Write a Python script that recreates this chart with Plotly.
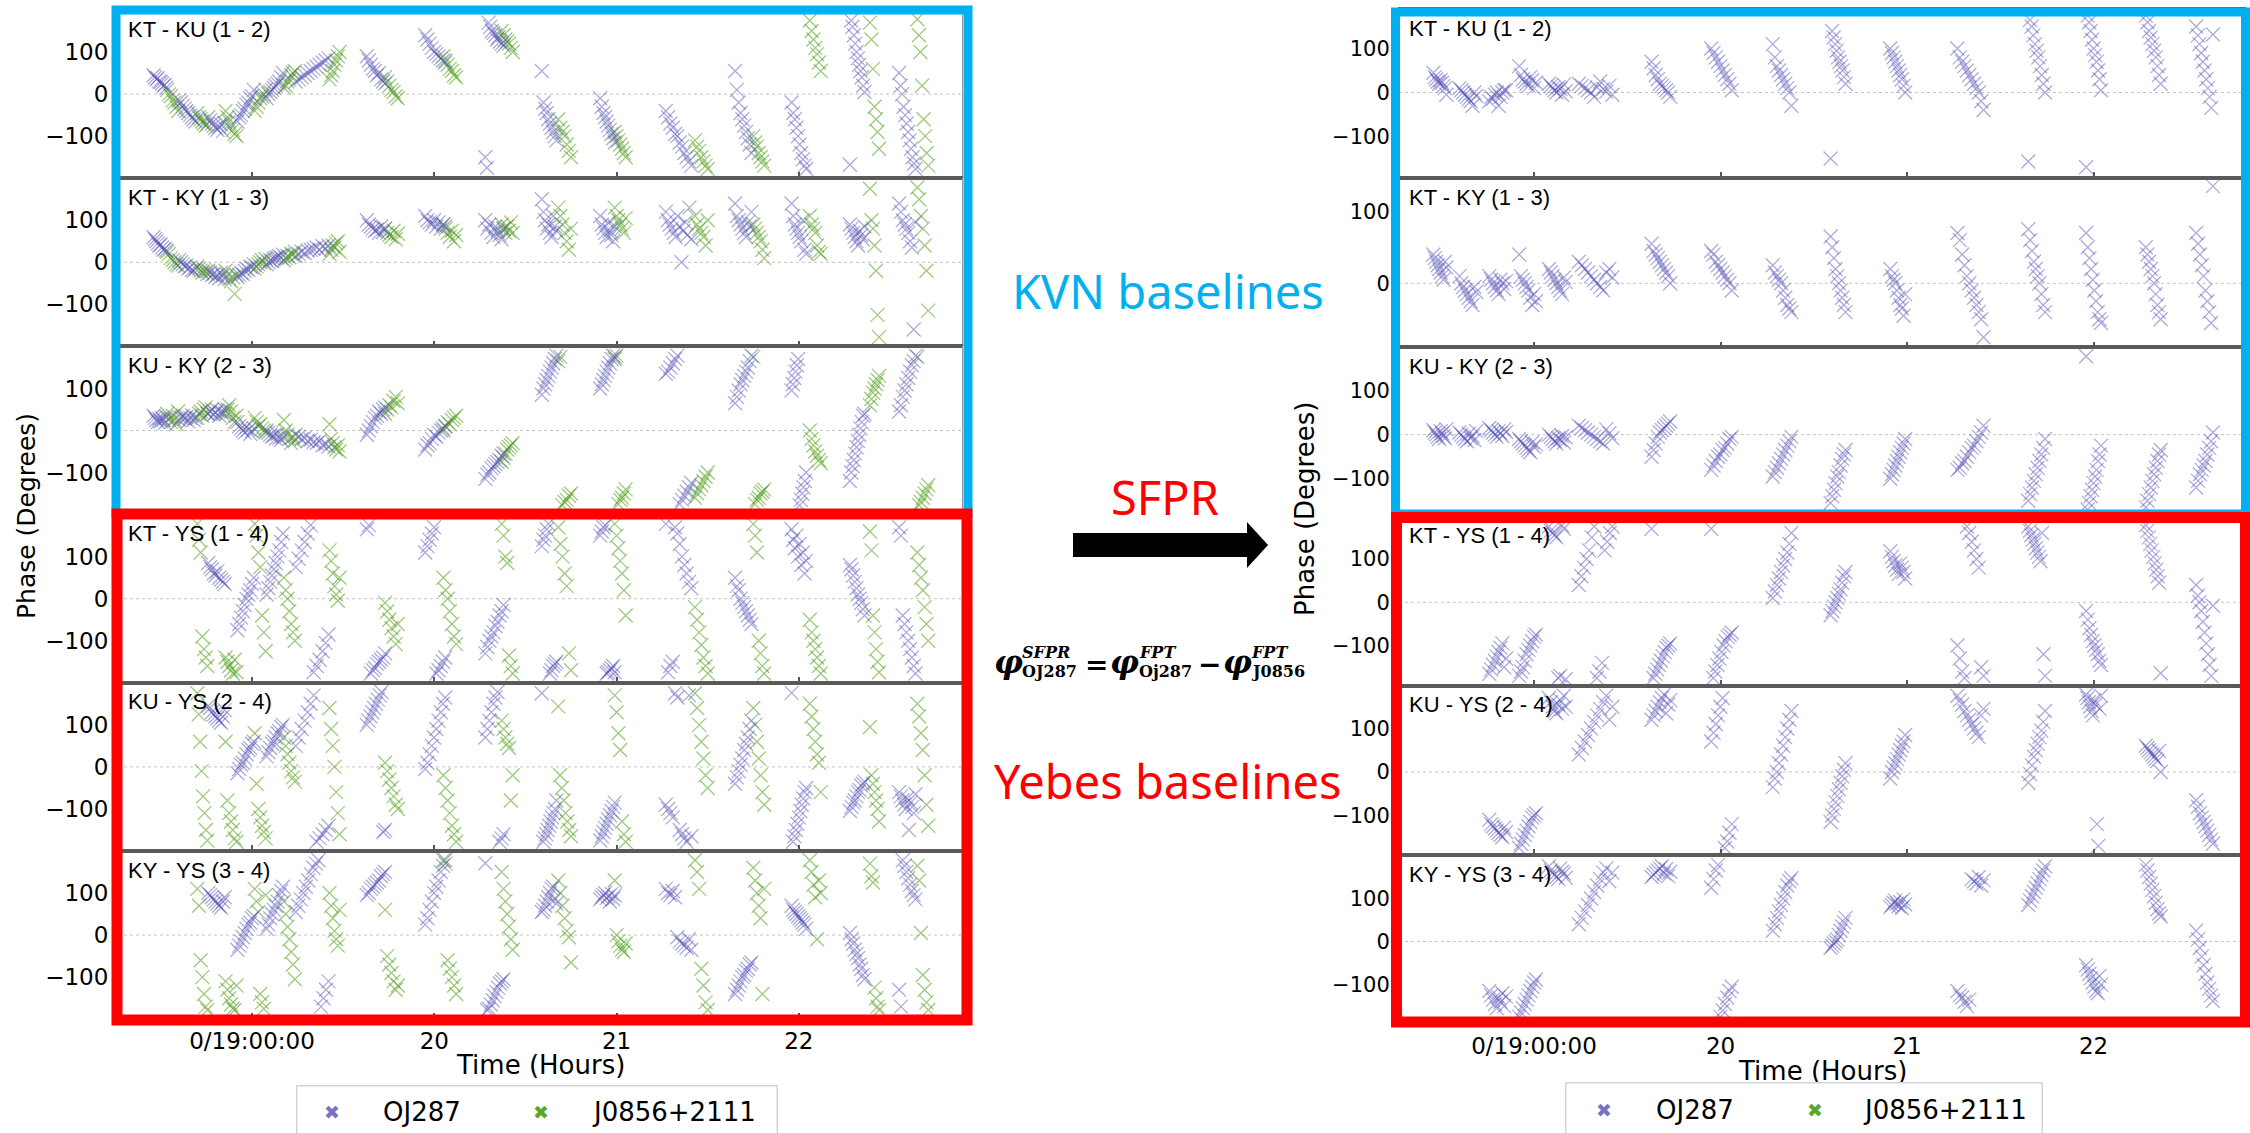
import numpy as np
import plotly.graph_objects as go

W, H = 2250, 1133

BASELINE_LABELS = ["KT - KU (1 - 2)", "KT - KY (1 - 3)", "KU - KY (2 - 3)",
                   "KT - YS (1 - 4)", "KU - YS (2 - 4)", "KY - YS (3 - 4)"]

# Scan windows (hours, 0/19:00:00 = 19)
OJ287_SCANS = [(18.46, 18.53), (18.60, 18.69), (18.76, 18.85), (18.92, 19.01),
               (19.08, 19.17), (19.24, 19.42), (19.63, 19.73), (19.95, 20.06),
               (20.28, 20.38), (20.59, 20.67), (20.91, 20.99), (21.27, 21.41),
               (21.65, 21.74), (21.96, 22.04), (22.28, 22.36), (22.55, 22.64)]
J0856_SCANS = [(18.535, 18.595), (18.70, 18.755), (18.855, 18.915), (19.015, 19.075),
               (19.175, 19.235), (19.425, 19.48), (19.73, 19.80), (20.05, 20.12),
               (20.37, 20.43), (20.68, 20.75), (20.99, 21.05), (21.43, 21.50),
               (21.75, 21.81), (22.06, 22.12), (22.39, 22.44), (22.65, 22.71)]

X_TICKS = [19, 20, 21, 22]
X_TICK_TEXT = ["0/19:00:00", "20", "21", "22"]
Y_TICKS = [-100, 0, 100]
Y_TICK_TEXT = ["\u2212100", "0", "100"]

# ---------------- fringe-fitted phases (degrees) ----------------
FPT_OJ287_KTKU = [
    [45, 40, 35, 38, 30, 28, 25, 20, 22, 15],
    [-15, -20, -28, -35, -40, -45, -50, -55, -60, -65],
    [-55, -62, -70, -75, -80, -85, -78, -72, -88, -68],
    [-65, -55, -50, -40, -35, -25, -20, -10, -5, 10],
    [-10, 0, 5, 10, 15, 20, 25, 30, 40, 50],
    [30, 35, 40, 45, 50, 55, 60, 65, 70, 75, 80, 85],
    [90, 80, 70, 60, 55, 45, 50, 35, 30, 25],
    [140, 130, 120, 110, 100, 95, 90, 85, 80, 75],
    [-150, -175, 170, 160, 150, 145, 140, 130, 135, 125, 120, 115],
    [55, -20, -35, -45, -60, -70, -80, -90, -100, -110],
    [-10, -30, -45, -55, -65, -75, -85, -95, -105, -115],
    [-40, -55, -70, -80, -95, -100, -115, -125, -140, -150, -160, -170],
    [55, 10, -20, -45, -60, -75, -90, -105, -120, -140],
    [-20, -45, -60, -80, -100, -120, -140, -155, -170, -178],
    [-168, 175, 160, 140, 120, 100, 85, 70, 55, 40, 20, 5],
    [50, 20, 0, -30, -50, -70, -90, -110, -130, -150, -165, -178],
]
FPT_J0856_KTKU = [
    [10, 0, -5, -15, -20, -30, -40],
    [-45, -55, -60, -65, -70, -75, -72],
    [-40, -55, -65, -75, -85, -95, -100],
    [-40, -30, -20, -10, -5, 0, 10],
    [15, 20, 30, 35, 45, 50, 55],
    [35, 45, 55, 70, 80, 90, 100],
    [40, 30, 20, 10, 5, -5, -10],
    [90, 80, 70, 60, 55, 45, 40],
    [150, 140, 130, 125, 120, 110, 100],
    [-60, -80, -90, -100, -120, -135, -150],
    [-90, -100, -110, -120, -130, -140, -150],
    [-110, -125, -135, -150, -160, -170, -178],
    [-100, -115, -125, -140, -150, -160, -170],
    [175, 150, 130, 110, 95, 75, 55],
    [170, 130, 60, -30, -60, -90, -130],
    [178, 140, 100, 20, -60, -100, -140, -170],
]

FPT_OJ287_KTKY = [
    [60, 55, 50, 45, 40, 42, 35, 30, 32, 28],
    [5, 0, -5, -10, -8, -15, -12, -18, -20, -15],
    [-20, -25, -30, -28, -35, -30, -38, -25, -32, -40],
    [-35, -30, -25, -28, -20, -15, -18, -10, -12, -5],
    [-5, 0, 5, 3, 8, 10, 12, 15, 10, 18],
    [15, 20, 25, 22, 28, 30, 32, 35, 30, 38, 33, 40],
    [100, 90, 85, 80, 75, 78, 70, 85, 72, 80],
    [110, 100, 95, 90, 100, 85, 95, 80, 90, 85],
    [100, 80, 90, 70, 60, 85, 75, 65, 55, 80],
    [150, 120, 100, 80, 90, 70, 60, 110, 85, 75],
    [110, 90, 80, 70, 60, 95, 75, 65, 50, 85],
    [120, 100, 90, 80, 70, 60, 110, 85, 0, 75, 95, 65, 130, 55],
    [140, 110, 100, 90, 80, 70, 60, 95, 85, 120],
    [140, 110, 90, 80, 70, 60, 50, 100, 30, 20],
    [90, 80, 70, 60, 50, 40, 75, 65, 55, 85],
    [140, 120, 100, 90, 80, 70, 50, 35, -160, 95],
]
FPT_J0856_KTKY = [
    [25, 20, 10, 5, 0, -5, -8],
    [-10, -15, -20, -25, -18, -22, -28],
    [-20, -30, -40, -45, -35, -75, -30],
    [-15, -10, -5, 0, 5, -2, 8],
    [5, 10, 15, 12, 20, 18, 25],
    [20, 30, 40, 35, 45, 50, 25],
    [80, 70, 65, 60, 75, 55, 68],
    [90, 80, 70, 60, 75, 50, 65],
    [90, 80, 70, 85, 75, 95, 70],
    [130, 110, 90, 70, 50, 30, 80],
    [130, 110, 100, 90, 80, 70, 105],
    [110, 90, 80, 70, 60, 40, 100],
    [90, 80, 70, 60, 50, 30, 10],
    [110, 90, 80, 70, 40, 25, 20],
    [175, 100, 80, 40, -20, -125, -178],
    [178, 150, 110, 80, 40, -20, -115],
]

FPT_OJ287_KUKY = [
    [35, 30, 25, 20, 28, 22, 30, 25, 18, 32],
    [25, 30, 35, 28, 32, 22, 30, 36, 25, 30],
    [40, 45, 50, 38, 42, 48, 35, 45, 40, 50],
    [20, 10, 5, 0, -5, 8, 2, -8, -2, 5],
    [0, -5, -10, -15, -12, -20, -8, -18, -22, -15],
    [-10, -15, -20, -18, -25, -22, -28, -30, -25, -35, -32, -38],
    [-10, 0, 10, 20, 30, 35, 45, 40, 50, 55],
    [-45, -35, -30, -20, -10, -15, -5, 0, 5, 10],
    [-115, -105, -100, -90, -85, -80, -75, -70, -60, -55],
    [85, 100, 110, 120, 130, 140, 150, 160, 170, 178],
    [100, 110, 120, 130, 140, 150, 160, 170, 178, 175],
    [135, 140, 150, 160, 170, 178, -175, -165, -155, -145, -135, -125],
    [65, 80, 95, 110, 120, 130, 140, 150, 165, 178],
    [95, 110, 125, 140, 155, 170, -178, -165, -150, -135, -120, -100],
    [-120, -100, -85, -70, -55, -40, -25, -10, 5, 20, 35, 40],
    [45, 60, 80, 95, 110, 125, 140, 155, 165, 178],
]
FPT_J0856_KUKY = [
    [40, 30, 20, 35, 25, 15, 45],
    [30, 40, 45, 35, 50, 55, 40],
    [40, 50, 60, 45, 30, 20, 35],
    [30, 20, 10, 15, 5, 0, -5],
    [25, 0, -10, -20, -30, -15, -25],
    [15, -20, -30, -40, -45, -35, -50],
    [40, 50, 60, 55, 70, 80, 65],
    [0, 10, 20, 15, 25, 30, 35],
    [-75, -65, -55, -45, -40, -35, -30],
    [165, 175, -178, -170, -165, -155, -150],
    [170, 178, -175, -165, -160, -150, -140],
    [-160, -150, -140, -130, -120, -110, -100],
    [175, -175, -165, -160, -150, -145, -140],
    [0, -20, -35, -50, -60, -70, -78],
    [60, 75, 90, 100, 110, 120, 130],
    [175, -178, -170, -160, -150, -140, -130],
]

FPT_OJ287_KTYS = [
    [], [],
    [85, 75, 70, 60, 55, 65, 50, 45, 40, 35],
    [-75, -60, -45, -30, -15, 0, 10, 20, 35, 50],
    [10, 25, 40, 55, 70, 85, 100, 115, 135, 155],
    [75, 95, 115, 135, 155, 175, -175, -160, -145, -125, -105, -85],
    [165, 175, -178, -170, -165, -155, -150, -145, -140, -130],
    [110, 125, 140, 155, 170, -178, -170, -160, -150, -140],
    [-130, -115, -100, -90, -80, -65, -55, -40, -30, -15],
    [125, 140, 150, 165, 178, -178, -170, -160, -155, -150],
    [150, 160, 170, 175, -178, -175, -170, -165, -160, -175],
    [178, -175, -160, -150, 170, 155, 130, 100, 80, 60, 40, 25],
    [50, 30, 20, 0, -10, -20, -30, -40, -50, -60],
    [165, 140, 120, 150, 100, 130, 80, 110, 60, 90],
    [80, 70, 55, 40, 25, 10, 0, -10, -25, -40],
    [170, 150, -40, -60, -80, -100, -120, -140, -160, -178],
]
FPT_J0856_KTYS = [
    [],
    [178, 140, 110, -90, -120, -140, -160],
    [-140, -150, -160, -170, -178, -145, -175],
    [178, 150, 110, 75, -40, -80, -125],
    [50, 20, 0, -30, -60, -80, -100],
    [115, 90, 60, 30, 10, -5, 50],
    [-10, -30, -50, -70, -90, -108, -60],
    [50, 20, 0, -30, -60, -90, -108],
    [178, 150, 100, 85, -135, -160, -178],
    [170, 130, 100, 60, 30, -130, -170],
    [178, 150, 120, 90, 60, 20, -40],
    [-20, -50, -80, -110, -140, -160, -178],
    [178, 150, 110, -100, -130, -160, -178],
    [-50, -80, -100, -120, -140, -160, -178],
    [160, 115, -40, -80, -120, -150, -175],
    [110, 80, 50, 20, -20, -60, -100],
]

FPT_OJ287_KUYS = [
    [], [],
    [145, 140, 130, 125, 120, 115, 110, 105, 120, 135],
    [-15, -5, 5, 10, 20, 30, 40, 45, 55, 60],
    [25, 35, 45, 55, 60, 70, 80, 85, 95, 100],
    [50, 70, 90, 110, 130, 150, 170, -178, -170, -160, -150, -140],
    [100, 110, 120, 130, 140, 150, 160, 170, 178, -155, -150],
    [-5, 10, 30, 50, 70, 90, 110, 130, 150, 165],
    [70, 90, 110, 130, 150, 165, 178, -178, -170, -160],
    [175, -178, -170, -160, -150, -140, -130, -120, -110, -100, -80],
    [-175, -165, -155, -145, -135, -125, -115, -105, -95, -85],
    [-90, -100, -110, -120, 175, 165, -150, -160, -170, -178, 170, -165],
    [-40, -25, -10, 5, 20, 40, 55, 70, 90, 110],
    [176, -178, -165, -150, -135, -120, -105, -90, -75, -60, -50],
    [-105, -95, -85, -80, -70, -60, -55, -45, -40, -35],
    [-60, -70, -80, -90, -100, -75, -150, -85, -95, -110, -65],
]
FPT_J0856_KUYS = [
    [],
    [175, 125, 60, -10, -70, -110, -150, -175],
    [60, -80, -110, -130, -150, -170, -178],
    [80, -40, -100, -120, -140, -155, -170],
    [70, 50, 30, 10, -10, -25, -35],
    [140, 90, 50, 0, -60, -110, -160],
    [10, -10, -30, -50, -70, -90, -100],
    [-20, -50, -80, -110, -140, -160, -178],
    [110, 90, 70, 55, 45, -80, -20],
    [144, -20, -50, -80, -110, -130, -150, -165],
    [170, 130, 80, 40, -130, -160, -178],
    [175, 140, 100, 60, 20, -20, -50],
    [140, 100, 60, 20, -20, -60, -90],
    [150, 120, 90, 60, 30, 10, -60],
    [95, -20, -40, -60, -80, -100, -130],
    [150, 120, 80, 40, -20, -90, -140],
]

FPT_OJ287_KYYS = [
    [], [],
    [100, 95, 90, 85, 80, 75, 70, 65, 80, 90],
    [-35, -25, -15, -5, 5, 15, 25, 30, 40, 45],
    [15, 25, 40, 50, 60, 70, 80, 95, 105, 115],
    [55, 70, 85, 100, 115, 130, 145, 160, 170, 178, -170, -150, -130, -110],
    [95, 100, 110, 115, 120, 125, 130, 140, 145, 150],
    [25, 40, 60, 80, 100, 115, 130, 150, 165, 178],
    [171, -178, -175, -165, -155, -145, -135, -125, -115, -110, -105],
    [55, 60, 70, 80, 90, 100, 110, 115, 85, 75],
    [85, 90, 95, 100, 88, 92, 80, 98, 86, 94],
    [110, 100, 95, 105, 90, -5, -15, -20, -25, -30, -10, -35],
    [-140, -130, -120, -110, -100, -95, -85, -80, -70, -65],
    [70, 60, 55, 50, 45, 40, 35, 30, 25, 15],
    [5, -10, -20, -35, -45, -55, -70, -80, -95, -105],
    [-130, -170, 178, 165, 150, 135, 120, 105, 95, 85],
]
FPT_J0856_KYYS = [
    [],
    [110, 70, -60, -100, -140, -170, -178],
    [-110, -130, -150, -165, -175, -178, -120],
    [110, 80, 55, -140, -160, -175, 95],
    [80, 50, 20, -10, -40, -70, -105],
    [100, 70, 40, 10, -10, -25, 60],
    [60, -50, -70, -90, -110, -130, -120],
    [178, 170, -60, -80, -100, -120, -140],
    [150, 110, 80, 50, 20, -10, -35],
    [130, 100, 70, 40, 10, -5, -65],
    [130, 0, -15, -25, -35, -40, -20],
    [178, 150, 110, -80, -120, -160, -178],
    [160, 130, 100, 70, 40, -140, 110],
    [178, 150, 120, 90, -10, 130, 100],
    [170, 140, 125, -125, -150, -170, -178],
    [165, 130, 5, -95, -130, -160, -178],
]

# ---------------- SFPR-corrected OJ287 phases (degrees) ----------------
SFPR_OJ287_KTKU = [
    [45, 35, 30, 25, 20, 28, 22, 15, 10, -5],
    [10, 5, 0, -5, -10, -15, -20, -30, 0, -8],
    [-20, -10, -15, -5, 0, -30, -10, 0, 5, 5],
    [60, 40, 30, 25, 20, 15, 35, 28, 10, 22],
    [20, 15, 10, 5, 0, 12, 8, -5, 18, 3],
    [20, 15, 10, 5, 0, -10, 12, 25, 8, 2, 15, -5],
    [70, 55, 40, 30, 20, 15, 10, 5, 0, -10],
    [100, 90, 80, 70, 60, 50, 40, 30, 20, 5],
    [110, 80, 60, 50, 40, 30, 20, 10, 0, -30],
    [-150, 140, 125, 110, 95, 80, 70, 60, 50, 35, 20],
    [100, 90, 80, 70, 60, 50, 40, 30, 15, 0],
    [100, 80, 70, 60, 50, 40, 30, 20, 10, 0, -20, -40],
    [-157, 165, 150, 130, 110, 95, 80, 60, 40, 20, 0],
    [-170, 175, 160, 140, 120, 100, 85, 70, 50, 30, 5],
    [175, 160, 140, 125, 110, 95, 80, 60, 40, 20],
    [150, 130, 110, 90, 70, 50, 30, 10, -10, -35, 132],
]
SFPR_OJ287_KTKY = [
    [40, 35, 30, 25, 20, 15, 10, 5, 30, 22],
    [10, 0, -5, -10, -15, -20, -25, -30, -5, -12],
    [10, 5, 0, -5, -10, -15, 5, 0, -8, 3],
    [40, 10, 5, 0, -5, -10, -20, -30, -15, -25],
    [20, 15, 10, 5, 0, -5, -10, -15, 8, 2],
    [30, 25, 20, 15, 10, 5, 0, -5, -10, 15, 20, 8],
    [55, 45, 40, 35, 30, 25, 20, 15, 10, 0],
    [45, 40, 30, 25, 20, 15, 10, 5, 0, -10],
    [25, 15, 10, 5, 0, -10, -20, -30, -35, -40],
    [65, 50, 35, 20, 10, 0, -10, -20, -30, -40],
    [20, 10, 5, 0, -10, -20, -30, -35, -45, -15],
    [70, 60, 40, 25, 10, 0, -10, -20, -30, -40, -50, -75],
    [75, 60, 45, 30, 20, 10, 0, -15, -30, -40],
    [70, 50, 35, 20, 5, -10, -25, -40, -50, -55],
    [50, 40, 30, 20, 10, 0, -15, -30, -40, -50],
    [70, 55, 40, 25, 10, -10, -25, -40, -55, 135],
]
SFPR_OJ287_KUKY = [
    [10, 5, 0, -5, -10, 8, 3, -3, -8, 12],
    [5, 0, -5, -10, -15, 2, -8, -3, -12, 8],
    [15, 10, 5, 0, -5, 8, 3, -3, 12, 6],
    [-10, -15, -20, -25, -30, -35, -40, -18, -28, -22],
    [0, -5, -10, -15, -20, -8, -12, -3, -18, -6],
    [20, 15, 10, 5, 0, -5, -10, -15, -20, 12, 3, -8],
    [-50, -35, -20, -5, 5, 10, 15, 20, 25, 30],
    [-80, -70, -60, -50, -45, -35, -30, -20, -10, -5],
    [-95, -85, -75, -65, -55, -45, -35, -25, -15, -5],
    [-155, -140, -125, -110, -95, -85, -70, -55, -45, -35],
    [-100, -90, -80, -70, -60, -50, -40, -30, -20, -10],
    [-80, -75, -65, -60, -50, -40, -30, -25, -15, -5, 5, 20],
    [-150, -135, -120, -105, -90, -75, -60, -45, -30, -10],
    [178, -170, -155, -140, -125, -110, -95, -80, -60, -45, -25],
    [-165, -150, -135, -120, -105, -90, -75, -60, -45, -35],
    [-120, -105, -90, -80, -70, -60, -45, -30, -15, 5],
]
SFPR_OJ287_KTYS = [
    [], [],
    [-165, -155, -145, -135, -125, -115, -105, -95, -150, -130],
    [-170, -160, -150, -135, -120, -110, -100, -90, -80, -75],
    [175, 165, 160, 155, 150, -175, -170, 178, 170, -178],
    [40, 60, 80, 100, 120, 150, 175, -175, -160, -140, 120, 140, 160, 175],
    [170, -175, -165, -155, -145, -135, -125, -115, -105, -100, -95],
    [170, -175, -160, -145, -130, -115, -100, -90, -80, -75, -70],
    [10, 25, 40, 55, 70, 85, 100, 115, 135, 160],
    [-30, -20, -10, 0, 10, 20, 30, 45, 60, 70],
    [118, 105, 95, 85, 75, 65, 90, 80, 70, 55],
    [-100, -130, -160, -175, 175, 160, 140, 120, 100, 80, -150, -170],
    [175, 165, 155, 145, 135, 125, 115, 105, 95, 160, -120, -170],
    [-20, -40, -60, -75, -90, -100, -110, -120, -135, -145],
    [178, 165, 150, 135, 120, 105, 90, 75, 60, 45, -164],
    [40, 15, 0, -20, -45, -70, -95, -120, -145, -170, -8],
]
SFPR_OJ287_KUYS = [
    [], [],
    [-110, -120, -125, -130, -135, -140, -145, -150, -128, -138],
    [-175, -165, -155, -145, -135, -125, -115, -105, -100, -95],
    [170, 160, 150, 140, 135, 155, 165, 145, 175, 150],
    [40, 55, 70, 85, 100, 115, 130, 145, 160, 175, 120, 150],
    [120, 130, 140, 150, 160, 170, 178, 135, 155, 165],
    [70, 90, 110, 130, 150, 170, -175, -160, -140, -120],
    [-35, -15, 0, 20, 40, 60, 80, 100, 120, 140],
    [-115, -100, -85, -70, -55, -40, -25, -10, 5, 20],
    [-15, 0, 10, 20, 30, 40, 50, 60, 70, 85],
    [175, 165, 155, 140, 130, 120, 110, 100, 90, 80, 130, 145],
    [-25, -5, 15, 35, 50, 65, 80, 95, 115, 140],
    [178, 170, 160, 150, 140, 130, 165, 155, -120, -170, 145, 175],
    [60, 55, 50, 45, 40, 35, 30, 25, 48, 0],
    [-65, -80, -95, -105, -115, -125, -135, -145, -155, -165],
]
SFPR_OJ287_KYYS = [
    [], [],
    [-115, -125, -135, -145, -155, -130, -140, -120, -150, -128],
    [-175, -165, -155, -145, -135, -125, -115, -105, -95, -88],
    [175, 165, 160, 155, 150, 145, 170, 162, 158, 148],
    [40, 55, 70, 85, 100, 115, 130, 145, 160, 170, 140, 160],
    [150, 155, 160, 165, 170, 175, 158, 168, 152, 162],
    [125, 145, 165, 178, -175, -160, -145, -130, -115, -105],
    [25, 40, 55, 70, 85, 100, 115, 130, 140, 147],
    [-15, -10, -5, 0, 5, 15, 25, 35, 45, 55],
    [80, 85, 90, 95, 88, 82, 92, 78, 98, 86],
    [-115, -125, -130, -140, -150, -135, 145, 140, 135, 150, 130, 142],
    [85, 95, 105, 115, 125, 135, 145, 155, 165, 175],
    [-55, -65, -75, -85, -95, -105, -115, -120, -80, -100],
    [178, 165, 150, 135, 120, 105, 90, 75, 65, 58],
    [25, 5, -15, -35, -55, -75, -95, -110, -125, -138],
]

FPT_OJ287 = [FPT_OJ287_KTKU, FPT_OJ287_KTKY, FPT_OJ287_KUKY,
             FPT_OJ287_KTYS, FPT_OJ287_KUYS, FPT_OJ287_KYYS]
FPT_J0856 = [FPT_J0856_KTKU, FPT_J0856_KTKY, FPT_J0856_KUKY,
             FPT_J0856_KTYS, FPT_J0856_KUYS, FPT_J0856_KYYS]
SFPR_OJ287 = [SFPR_OJ287_KTKU, SFPR_OJ287_KTKY, SFPR_OJ287_KUKY,
              SFPR_OJ287_KTYS, SFPR_OJ287_KUYS, SFPR_OJ287_KYYS]

PURPLE = "rgba(92, 90, 186, 0.5)"
GREEN = "rgba(78, 158, 22, 0.55)"
PURPLE_KEY = "#7772c4"
GREEN_KEY = "#5aa826"


def scan_points(scans, phases):
    t, p = [], []
    for (t0, t1), vals in zip(scans, phases):
        if not vals:
            continue
        t.extend(np.linspace(t0, t1, len(vals)).tolist())
        p.extend(vals)
    return t, p


def fx(px):
    return px / W


def fy(py):
    return 1 - py / H


PANELS = [
    dict(x=(118, 962), top=10, row=168.2, xr=[18.265, 22.895],
         yr=[[-200, 200]] * 6, tick_size=23),
    dict(x=(1399, 2245), top=9, row=169.2, xr=[18.276, 22.812],
         yr=[[-195, 190], [-89, 146], [-186, 198], [-193, 198], [-191, 198], [-192, 201]],
         tick_size=21),
]

MARKER_SIZE = 14
MARKER_LINE = 1.3

fig = go.Figure()
shapes = []
annotations = []

for p, panel in enumerate(PANELS):
    for r in range(6):
        idx = p * 6 + r + 1
        xs = "x" if idx == 1 else f"x{idx}"
        ys = "y" if idx == 1 else f"y{idx}"
        top = panel["top"] + r * panel["row"]
        bot = top + panel["row"]

        if p == 0:
            t, ph = scan_points(OJ287_SCANS, FPT_OJ287[r])
            tj, pj = scan_points(J0856_SCANS, FPT_J0856[r])
            fig.add_trace(go.Scatter(x=tj, y=pj, mode="markers", xaxis=xs, yaxis=ys,
                                     name="J0856+2111", showlegend=False,
                                     marker=dict(symbol="x-thin", size=MARKER_SIZE,
                                                 line=dict(width=MARKER_LINE, color=GREEN))))
        else:
            t, ph = scan_points(OJ287_SCANS, SFPR_OJ287[r])
        fig.add_trace(go.Scatter(x=t, y=ph, mode="markers", xaxis=xs, yaxis=ys,
                                 name="OJ287", showlegend=False,
                                 marker=dict(symbol="x-thin", size=MARKER_SIZE,
                                             line=dict(width=MARKER_LINE, color=PURPLE))))

        xkey = "xaxis" if idx == 1 else f"xaxis{idx}"
        ykey = "yaxis" if idx == 1 else f"yaxis{idx}"
        fig.layout[xkey] = dict(
            domain=[fx(panel["x"][0]), fx(panel["x"][1])], range=panel["xr"],
            anchor=ys, tickvals=X_TICKS, ticktext=X_TICK_TEXT,
            showticklabels=(r == 5), ticks="inside", ticklen=6, tickwidth=1.5,
            tickcolor="#555", showline=True, mirror=True, linecolor="#5a5a5a",
            linewidth=1.6, showgrid=False, zeroline=False,
            tickfont=dict(family="DejaVu Sans", size=23, color="black"))
        fig.layout[ykey] = dict(
            domain=[fy(bot), fy(top)], range=panel["yr"][r], anchor=xs,
            tickvals=Y_TICKS, ticktext=Y_TICK_TEXT, ticks="outside", ticklen=4,
            tickcolor="#555", showline=True, mirror=True, linecolor="#9a9a9a",
            linewidth=1, showgrid=False, zeroline=False,
            tickfont=dict(family="DejaVu Sans", size=panel["tick_size"], color="black"))

        shapes.append(dict(type="line", xref=f"{xs} domain", yref=ys, x0=0, x1=1,
                           y0=0, y1=0, layer="below",
                           line=dict(color="#c4c4c4", width=1, dash="dot")))
        annotations.append(dict(xref="paper", yref="paper", x=fx(panel["x"][0] + 8),
                                y=fy(top + 19), xanchor="left", yanchor="middle",
                                text=BASELINE_LABELS[r], showarrow=False,
                                font=dict(family="Liberation Sans", size=22, color="black")))


def note(x, y, text, size, color="black", family="DejaVu Sans", xanchor="center",
         angle=0):
    annotations.append(dict(xref="paper", yref="paper", x=fx(x), y=fy(y), text=text,
                            showarrow=False, xanchor=xanchor, yanchor="middle",
                            textangle=angle, font=dict(family=family, size=size, color=color)))


# axis titles
note(27, 516, "Phase (Degrees)", 25, angle=-90)
note(1305, 509, "Phase (Degrees)", 26, angle=-90)
note(540, 1065, "Time (Hours)", 26)
note(1822, 1071, "Time (Hours)", 26)

# centre captions
note(1168, 291, "KVN baselines", 47, color="#00b0f0", family="Noto Sans")
note(1165, 497, "SFPR", 47, color="#ff0000", family="Noto Sans")
note(1168, 781, "Yebes baselines", 47, color="#ff0000", family="Noto Sans")

# phase-referencing relation
SERIF = "DejaVu Serif"
for cx in (1008, 1124, 1237):
    note(cx, 662, "<b><i>\u03c6</i></b>", 32, family=SERIF)
note(1096, 664, "<b>=</b>", 28, family=SERIF)
note(1209, 664, "<b>\u2212</b>", 28, family=SERIF)
for lx, sup, sub in ((1020, "SFPR", "OJ287"), (1137, "FPT", "Oj287"), (1249, "FPT", "J0856")):
    note(lx, 652, f"<b><i>{sup}</i></b>", 16, family=SERIF, xanchor="left")
    note(lx, 672, f"<b>{sub}</b>", 16, family=SERIF, xanchor="left")

# legend keys
for cx, cy, w, h, mx1, tx1, mx2, tx2 in ((536.5, 1111, 479, 50, 332, 381, 541, 590),
                                           (1803.5, 1108.5, 475, 51, 1604, 1654, 1815, 1861)):
    annotations.append(dict(xref="paper", yref="paper", x=fx(cx), y=fy(cy), text=" ",
                            showarrow=False, xanchor="center", yanchor="middle",
                            width=w, height=h, bgcolor="white", bordercolor="#d4d4d4",
                            borderwidth=1.5, borderpad=0))
    ty = cy + 1
    note(mx1, ty, "\u2716", 19, color=PURPLE_KEY)
    note(tx1, ty, "OJ287", 26, xanchor="left")
    note(mx2, ty, "\u2716", 19, color=GREEN_KEY)
    note(tx2, ty, "J0856+2111", 26, xanchor="left")


def rect(x0, y0, x1, y1, color, width):
    shapes.append(dict(type="rect", xref="paper", yref="paper", x0=fx(x0), x1=fx(x1),
                       y0=fy(y1), y1=fy(y0), layer="above",
                       line=dict(color=color, width=width), fillcolor="rgba(0,0,0,0)"))


rect(116, 10, 968, 514, "#00b0f0", 9)
rect(1395.5, 12, 2245.5, 514, "#00b0f0", 9)
rect(117, 514, 967, 1020, "#ff0000", 11)
rect(1396.5, 517.5, 2245.5, 1022, "#ff0000", 11)

# SFPR arrow
arrow_pts = [(1073, 533), (1247, 533), (1247, 522), (1268, 545), (1247, 568),
             (1247, 557), (1073, 557)]
path = "M " + " L ".join(f"{fx(x):.5f},{fy(y):.5f}" for x, y in arrow_pts) + " Z"
shapes.append(dict(type="path", xref="paper", yref="paper", path=path, layer="above",
                   fillcolor="black", line=dict(color="black", width=0)))

fig.update_layout(width=W, height=H, margin=dict(l=0, r=0, t=0, b=0),
                  paper_bgcolor="white", plot_bgcolor="white", showlegend=False,
                  shapes=shapes, annotations=annotations)

fig.write_html("out.html")
